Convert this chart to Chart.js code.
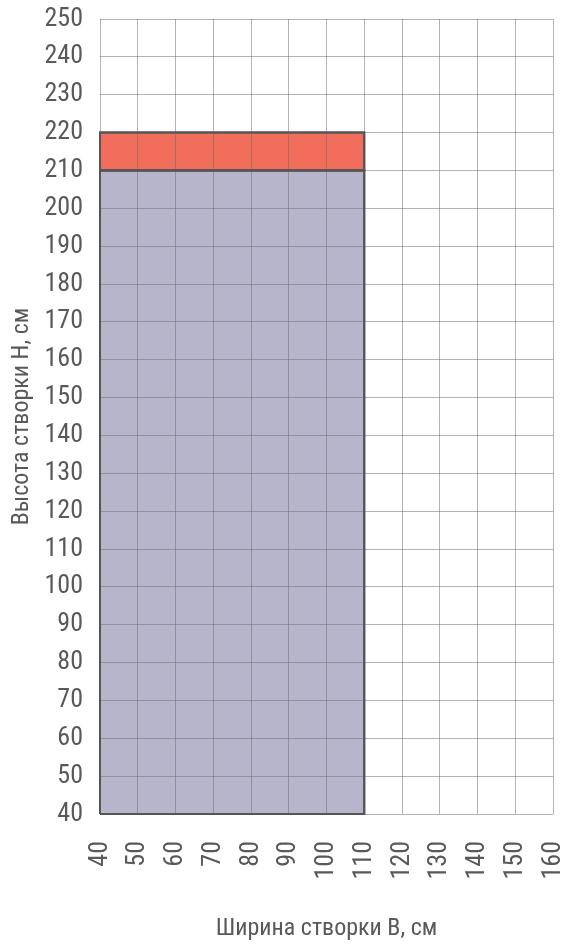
<!DOCTYPE html>
<html>
<head>
<meta charset="utf-8">
<script src="https://cdn.jsdelivr.net/npm/chart.js@4/dist/chart.umd.min.js"></script>
<style>
  html, body { margin: 0; padding: 0; background: #fff; }
  #wrap { width: 568px; height: 944px; position: relative; }
</style>
</head>
<body>
<div id="wrap"><canvas id="c" width="568" height="944"></canvas></div>
<script>
// ---- data ----
const xTickValues = [40, 50, 60, 70, 80, 90, 100, 110, 120, 130, 140, 150, 160];
const yTickValues = [40, 50, 60, 70, 80, 90, 100, 110, 120, 130, 140, 150, 160, 170, 180, 190, 200, 210, 220, 230, 240, 250];
// zone outlines (closed polygons): width B vs height H
const zoneX      = [40, 40, 110, 110, 40];
const mainZoneY  = [40, 210, 210, 40, 40];
const extraZoneY = [210, 220, 220, 210, 210];
const xTitle = 'Ширина створки B, см';
const yTitle = 'Высота створки H, см';

const FONT = "'Liberation Sans Narrow', 'Roboto Condensed', 'DejaVu Sans Condensed', Roboto, sans-serif";
const TXT = '#595959';

const toPts = (xs, ys) => xs.map((x, i) => ({ x: x, y: ys[i] }));

const redrawBorders = {
  id: 'redrawBorders',
  afterDraw(chart) {
    const ctx = chart.ctx;
    chart.data.datasets.forEach((d, i) => {
      const meta = chart.getDatasetMeta(i);
      ctx.save();
      meta.dataset.draw(ctx, chart.chartArea);
      ctx.restore();
    });
  }
};

new Chart(document.getElementById('c'), {
  type: 'line',
  data: {
    datasets: [
      {
        data: toPts(zoneX, mainZoneY),
        fill: 'shape',
        backgroundColor: '#b7b5cc',
        borderColor: '#555555',
        borderWidth: 2,
        pointRadius: 0,
        tension: 0,
        clip: false
      },
      {
        data: toPts(zoneX, extraZoneY),
        fill: 'shape',
        backgroundColor: '#f06e5b',
        borderColor: '#555555',
        borderWidth: 2,
        pointRadius: 0,
        tension: 0,
        clip: false
      }
    ]
  },
  options: {
    responsive: false,
    animation: false,
    events: [],
    layout: { padding: { left: 0, right: 15, top: 19, bottom: 0 } },
    plugins: { legend: { display: false }, tooltip: { enabled: false } },
    scales: {
      x: {
        type: 'linear',
        min: 40, max: 160,
        afterBuildTicks(scale) { scale.ticks = xTickValues.map(v => ({ value: v })); },
        afterFit(scale) { scale.height = 130; scale.paddingLeft = 0; scale.paddingRight = 0; },
        grid: { color: 'rgba(105,105,105,0.5)', lineWidth: 1, drawTicks: false, z: 1 },
        border: { display: false },
        ticks: {
          autoSkip: false, minRotation: 90, maxRotation: 90, padding: 27,
          color: TXT, font: { family: FONT, size: 26 }
        },
        title: {
          display: true, text: xTitle, color: TXT,
          font: { family: FONT, size: 24, lineHeight: 1.0 }, padding: { top: 3, bottom: 3 }
        }
      },
      y: {
        type: 'linear',
        min: 40, max: 250,
        afterBuildTicks(scale) { scale.ticks = yTickValues.map(v => ({ value: v })); },
        afterFit(scale) { scale.width = 100; scale.paddingTop = 0; scale.paddingBottom = 0; },
        grid: { color: 'rgba(105,105,105,0.5)', lineWidth: 1, drawTicks: false, z: 1 },
        border: { display: false },
        ticks: {
          autoSkip: false, padding: 17,
          color: TXT, font: { family: FONT, size: 26 }
        },
        title: {
          display: true, text: yTitle, color: TXT,
          font: { family: FONT, size: 24 }, padding: { top: 8, bottom: 8 }
        }
      }
    }
  },
  plugins: [redrawBorders]
});
</script>
</body>
</html>
